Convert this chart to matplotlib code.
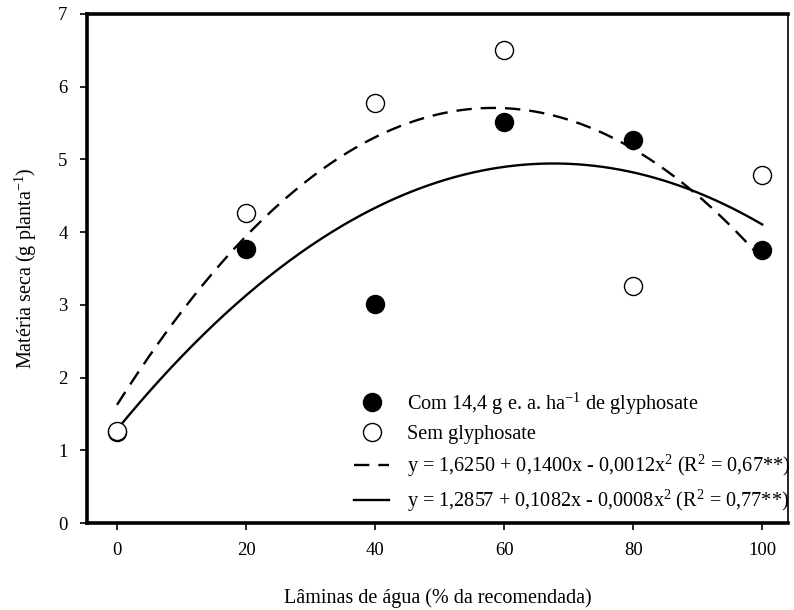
import numpy as np
import matplotlib
matplotlib.use("Agg")
import matplotlib.pyplot as plt
from matplotlib.lines import Line2D

plt.rcParams["font.family"] = ["Liberation Serif", "DejaVu Serif"]
plt.rcParams["mathtext.fontset"] = "custom"
plt.rcParams["mathtext.rm"] = "Liberation Serif"
plt.rcParams["mathtext.it"] = "Liberation Serif"
plt.rcParams["mathtext.bf"] = "Liberation Serif:bold"

# Irrigation depths (% of recommended)
laminas = [0, 20, 40, 60, 80, 100]
# Dry matter (g per plant)
com_glyphosate = [1.25, 3.77, 3.01, 5.51, 5.27, 3.76]
sem_glyphosate = [1.26, 4.27, 5.78, 6.51, 3.26, 4.78]

# Quadratic fits: intercept, linear, quadratic coefficients
coef_sem = [1.6250, 0.1400, -0.0012]
coef_com = [1.2857, 0.1082, -0.0008]
r2_sem = "0,67"
r2_com = "0,77"

x_ticks = [0, 20, 40, 60, 80, 100]
y_ticks = [0, 1, 2, 3, 4, 5, 6, 7]

fig = plt.figure(figsize=(7.94, 6.10), dpi=100)
ax = fig.add_axes([87 / 794, 87 / 610, (788 - 87) / 794, (523 - 14) / 610])

xs = np.linspace(0, 100, 300)
fit_sem = coef_sem[0] + coef_sem[1] * xs + coef_sem[2] * xs ** 2
fit_com = coef_com[0] + coef_com[1] * xs + coef_com[2] * xs ** 2

dash = (6.5, 3.8)
ax.plot(xs, fit_sem, color="black", lw=1.7, dashes=dash, zorder=2)
ax.plot(xs, fit_com, color="black", lw=1.7, zorder=2)

ax.plot(laminas, com_glyphosate, "o", ms=13, mfc="black", mec="black",
        mew=1.0, ls="none", zorder=3)
ax.plot(laminas, sem_glyphosate, "o", ms=13, mfc="white", mec="black",
        mew=1.0, ls="none", zorder=4)

ax.set_xlim(-4.65, 104.0)
ax.set_ylim(0, 7)
ax.set_xticks(x_ticks)
ax.set_yticks(y_ticks)

for side in ["left", "bottom", "top"]:
    ax.spines[side].set_linewidth(2.6)
ax.spines["right"].set_linewidth(1.2)
ax.tick_params(direction="out", length=5, width=1.2, labelsize=13.5, pad=9)

ax.set_xlabel("Lâminas de água (% da recomendada)", fontsize=14.5, labelpad=21)
ax.set_ylabel("Matéria seca (g planta$^{-1}$)", fontsize=14.5, labelpad=14)


def eq_label(c, r2):
    a, b, q = c
    fmt = lambda v: f"{abs(v):.4f}".replace(".", ",")
    return (f"y = {fmt(a)} + {fmt(b)}x - {fmt(q)}x$^{{2}}$ "
            f"(R$^{{2}}$ = {r2}**)")


handles = [
    Line2D([], [], marker="o", ms=13, mfc="black", mec="black", ls="none"),
    Line2D([], [], marker="o", ms=13, mfc="white", mec="black", ls="none"),
    Line2D([], [], color="black", lw=1.7, dashes=dash),
    Line2D([], [], color="black", lw=1.7),
]
labels = [
    "Com 14,4 g e. a. ha$^{-1}$ de glyphosate",
    "Sem glyphosate",
    eq_label(coef_sem, r2_sem),
    eq_label(coef_com, r2_com),
]
ax.legend(handles, labels, loc="lower right", bbox_to_anchor=(1.0 + 11 / 701, 0.0),
          frameon=False, fontsize=14.6, handlelength=1.75, handletextpad=0.85,
          labelspacing=0.42, borderaxespad=0.45, borderpad=0.0)

fig.savefig("out.png", dpi=100)
